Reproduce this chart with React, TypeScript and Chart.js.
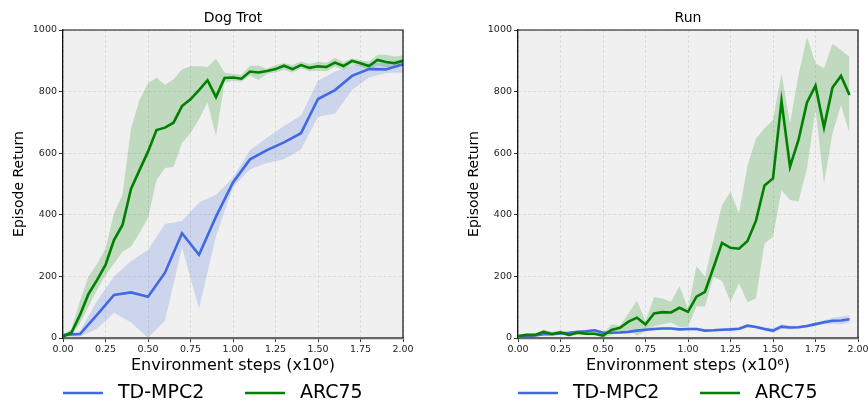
import { useEffect, useRef } from 'react';
import { Chart, registerables } from 'chart.js';

Chart.register(...registerables);

const BLUE = '#4169e1';
const GREEN = '#008000';
const BLUE_BAND = 'rgba(65,105,225,0.2)';
const GREEN_BAND = 'rgba(0,128,0,0.2)';
const FONT = '"DejaVu Sans", "Liberation Sans", sans-serif';

const SERIES_NAMES = ['TD-MPC2', 'ARC75'];
const TITLES = ['Dog Trot', 'Run'];
const X_LABEL = 'Environment steps (x10⁶)';
const Y_LABEL = 'Episode Return';

// ---------- Dog Trot ----------
const DOG_X_ARC = [0, 0.05, 0.1, 0.15, 0.2, 0.25, 0.3, 0.35, 0.4, 0.45, 0.5, 0.55, 0.6, 0.65, 0.7, 0.75, 0.8, 0.85, 0.9, 0.95, 1.0, 1.05, 1.1, 1.15, 1.2, 1.25, 1.3, 1.35, 1.4, 1.45, 1.5, 1.55, 1.6, 1.65, 1.7, 1.75, 1.8, 1.85, 1.9, 1.95, 2.0];
const DOG_ARC_MEAN = [5, 18, 75, 143, 188, 237, 318, 367, 484, 545, 605, 675, 683, 699, 753, 775, 805, 837, 782, 844, 846, 842, 865, 862, 867, 873, 884, 873, 886, 877, 882, 880, 894, 883, 900, 892, 883, 903, 896, 892, 900];
const DOG_ARC_UPPER = [10, 30, 120, 200, 240, 290, 405, 465, 680, 773, 827, 845, 822, 840, 872, 882, 882, 880, 907, 862, 857, 855, 884, 885, 874, 886, 893, 886, 898, 890, 897, 894, 910, 895, 908, 902, 898, 920, 920, 914, 917];
const DOG_ARC_LOWER = [0, 8, 48, 102, 156, 204, 242, 280, 296, 340, 390, 513, 552, 555, 633, 665, 710, 765, 656, 829, 835, 832, 852, 838, 858, 862, 870, 862, 875, 866, 868, 866, 880, 872, 888, 882, 870, 885, 878, 875, 882];

const DOG_X_TD = [0, 0.1, 0.2, 0.3, 0.4, 0.5, 0.6, 0.7, 0.8, 0.9, 1.0, 1.1, 1.2, 1.3, 1.4, 1.5, 1.6, 1.7, 1.8, 1.9, 2.0];
const DOG_TD_MEAN = [10, 13, 75, 140, 148, 134, 212, 340, 270, 394, 505, 580, 610, 635, 665, 776, 805, 851, 873, 872, 889];
const DOG_TD_UPPER = [12, 22, 120, 200, 250, 286, 370, 380, 440, 465, 520, 610, 650, 688, 722, 835, 865, 885, 890, 895, 905];
const DOG_TD_LOWER = [5, 5, 30, 82, 50, 0, 57, 295, 96, 330, 490, 548, 568, 580, 612, 718, 729, 805, 846, 860, 862];

// ---------- Run ----------
const RUN_X = [0, 0.05, 0.1, 0.15, 0.2, 0.25, 0.3, 0.35, 0.4, 0.45, 0.5, 0.55, 0.6, 0.65, 0.7, 0.75, 0.8, 0.85, 0.9, 0.95, 1.0, 1.05, 1.1, 1.15, 1.2, 1.25, 1.3, 1.35, 1.4, 1.45, 1.5, 1.55, 1.6, 1.65, 1.7, 1.75, 1.8, 1.85, 1.9, 1.95];
const RUN_ARC_MEAN = [6, 10, 10, 20, 13, 18, 10, 17, 14, 14, 8, 26, 33, 53, 66, 44, 80, 84, 83, 98, 85, 134, 150, 229, 309, 293, 290, 315, 381, 495, 518, 769, 556, 643, 765, 819, 684, 813, 851, 789];
const RUN_ARC_UPPER = [10, 15, 14, 28, 20, 25, 16, 22, 20, 20, 15, 45, 40, 80, 121, 55, 133, 128, 118, 169, 96, 234, 199, 318, 432, 475, 405, 560, 648, 681, 708, 859, 697, 854, 978, 892, 876, 955, 935, 913];
const RUN_ARC_LOWER = [2, 5, 6, 12, 7, 12, 5, 12, 9, 9, 2, 10, 18, 28, 8, 22, 38, 45, 50, 35, 37, 102, 102, 200, 185, 118, 178, 115, 129, 307, 329, 480, 448, 443, 551, 740, 502, 665, 756, 665];
const RUN_TD_MEAN = [5, 7, 8, 12, 12, 15, 17, 20, 22, 25, 17, 17, 18, 20, 24, 27, 29, 31, 31, 28, 29, 29, 24, 25, 27, 28, 30, 40, 36, 29, 24, 37, 34, 35, 39, 45, 51, 56, 57, 61];
const RUN_TD_UPPER = [7, 9, 11, 15, 15, 18, 20, 23, 26, 29, 21, 21, 22, 24, 28, 31, 33, 35, 35, 32, 33, 33, 28, 29, 31, 32, 34, 44, 40, 35, 32, 44, 40, 40, 44, 50, 58, 66, 70, 74];
const RUN_TD_LOWER = [3, 5, 5, 9, 9, 12, 14, 17, 18, 21, 13, 13, 14, 16, 20, 23, 25, 27, 27, 24, 25, 25, 20, 21, 23, 24, 26, 36, 32, 23, 16, 30, 28, 30, 34, 40, 44, 46, 44, 50];

const X_MIN = 0;
const X_MAX = 2;
const X_STEP = 0.25;
const Y_MIN = 0;
const Y_MAX = 1000;
const Y_STEP = 200;

const pts = (xs: number[], ys: number[]) => xs.map((x, i) => ({ x, y: ys[i] }));

const bgPlugin = {
  id: 'plotBg',
  beforeDraw(chart: any) {
    const { ctx, chartArea: a } = chart;
    ctx.save();
    ctx.fillStyle = '#f0f0f0';
    ctx.fillRect(a.left, a.top, a.right - a.left, a.bottom - a.top);
    ctx.restore();
  },
};

const framePlugin = {
  id: 'frame',
  afterDraw(chart: any) {
    const { ctx, chartArea: a } = chart;
    ctx.save();
    ctx.strokeStyle = '#111';
    ctx.lineWidth = 1.2;
    ctx.beginPath();
    ctx.moveTo(a.left, a.top);
    ctx.lineTo(a.right, a.top);
    ctx.lineTo(a.right, a.bottom);
    ctx.stroke();
    ctx.restore();
  },
};

const legendPlugin = {
  id: 'bottomLegend',
  afterDraw(chart: any) {
    const { ctx, chartArea: a } = chart;
    const items = [
      { text: SERIES_NAMES[0], color: BLUE, off: 0 },
      { text: SERIES_NAMES[1], color: GREEN, off: 182 },
    ];
    const y = 393;
    ctx.save();
    ctx.font = `19px ${FONT}`;
    ctx.textBaseline = 'middle';
    ctx.textAlign = 'left';
    for (const it of items) {
      const x0 = a.left + it.off;
      ctx.strokeStyle = it.color;
      ctx.lineWidth = 2.6;
      ctx.beginPath();
      ctx.moveTo(x0, y);
      ctx.lineTo(x0 + 40, y);
      ctx.stroke();
      ctx.fillStyle = '#000';
      ctx.fillText(it.text, x0 + 55, y + 0.5);
    }
    ctx.restore();
  },
};

function makeConfig(title: string, td: any, arc: any) {
  const lineDs = (label: string, data: any[], color: string) => ({
    label,
    data,
    borderColor: color,
    backgroundColor: color,
    borderWidth: 2.6,
    pointRadius: 0,
    tension: 0,
    fill: false,
  });
  const bandDs = (data: any[], color: string, fill: any) => ({
    label: '',
    data,
    borderWidth: 0,
    borderColor: 'rgba(0,0,0,0)',
    backgroundColor: color,
    pointRadius: 0,
    tension: 0,
    fill,
  });
  return {
    type: 'line',
    data: {
      datasets: [
        lineDs(SERIES_NAMES[1], pts(arc.x, arc.mean), GREEN),
        lineDs(SERIES_NAMES[0], pts(td.x, td.mean), BLUE),
        bandDs(pts(arc.x, arc.upper), GREEN_BAND, '+1'),
        bandDs(pts(arc.x, arc.lower), GREEN_BAND, false),
        bandDs(pts(td.x, td.upper), BLUE_BAND, '+1'),
        bandDs(pts(td.x, td.lower), BLUE_BAND, false),
      ],
    },
    options: {
      responsive: false,
      animation: false,
      events: [],
      layout: { padding: { left: 0, right: 0, top: 0, bottom: 30 } },
      plugins: {
        legend: { display: false },
        tooltip: { enabled: false },
        title: {
          display: true,
          text: title,
          color: '#000',
          font: { family: FONT, size: 14, weight: 'normal', lineHeight: 1.2 },
          padding: { top: 9.6, bottom: 3.6 },
        },
      },
      scales: {
        x: {
          type: 'linear',
          min: X_MIN,
          max: X_MAX,
          afterFit: (s: any) => { s.height = 37; },
          ticks: {
            stepSize: X_STEP,
            color: '#222',
            padding: 2,
            maxRotation: 0,
            autoSkip: false,
            font: { family: FONT, size: 9.5 },
            callback: (v: any) => Number(v).toFixed(2),
          },
          grid: {
            color: '#d6d6d6',
            lineWidth: 0.8,
            tickLength: 4,
            tickColor: '#333',
            tickWidth: 1,
            tickBorderDash: [],
          },
          border: { display: true, color: '#666', width: 2.2, dash: [3, 2] },
          title: {
            display: true,
            text: X_LABEL,
            color: '#000',
            font: { family: FONT, size: 16, lineHeight: 1.2 },
            padding: { top: 0, bottom: 0 },
          },
        },
        y: {
          type: 'linear',
          min: Y_MIN,
          max: Y_MAX,
          afterFit: (s: any) => { s.width = 63; },
          ticks: {
            stepSize: Y_STEP,
            color: '#222',
            padding: 2,
            font: { family: FONT, size: 9.5 },
            callback: (v: any) => String(v),
          },
          grid: {
            color: '#d6d6d6',
            lineWidth: 0.8,
            tickLength: 4,
            tickColor: '#333',
            tickWidth: 1,
            tickBorderDash: [],
          },
          border: { display: true, color: '#111', width: 1.3, dash: [3, 2] },
          title: {
            display: true,
            text: Y_LABEL,
            color: '#000',
            font: { family: FONT, size: 14, lineHeight: 1.2 },
            padding: { top: 11, bottom: 0 },
          },
        },
        y2: {
          type: 'linear',
          position: 'right',
          display: true,
          afterFit: (s: any) => { s.width = 63; },
          ticks: { display: false },
          grid: { display: false, drawOnChartArea: false },
          border: { display: false },
        },
      },
    },
    plugins: [bgPlugin, framePlugin, legendPlugin],
  };
}

function Panel({ left, title, td, arc }: any) {
  const ref = useRef<HTMLCanvasElement | null>(null);
  useEffect(() => {
    if (!ref.current) return;
    const chart = new Chart(ref.current, makeConfig(title, td, arc) as any);
    return () => chart.destroy();
  }, []);
  return (
    <canvas
      ref={ref}
      width={466}
      height={405}
      style={{ position: 'absolute', left, top: 0, width: 466, height: 405 }}
    />
  );
}

export default function App() {
  useEffect(() => {
    document.body.style.margin = '0';
    document.body.style.overflow = 'hidden';
  }, []);
  return (
    <div style={{ position: 'relative', width: 868, height: 405, overflow: 'hidden', background: '#fff' }}>
      <Panel
        left={0}
        title={TITLES[0]}
        td={{ x: DOG_X_TD, mean: DOG_TD_MEAN, upper: DOG_TD_UPPER, lower: DOG_TD_LOWER }}
        arc={{ x: DOG_X_ARC, mean: DOG_ARC_MEAN, upper: DOG_ARC_UPPER, lower: DOG_ARC_LOWER }}
      />
      <Panel
        left={455}
        title={TITLES[1]}
        td={{ x: RUN_X, mean: RUN_TD_MEAN, upper: RUN_TD_UPPER, lower: RUN_TD_LOWER }}
        arc={{ x: RUN_X, mean: RUN_ARC_MEAN, upper: RUN_ARC_UPPER, lower: RUN_ARC_LOWER }}
      />
    </div>
  );
}
